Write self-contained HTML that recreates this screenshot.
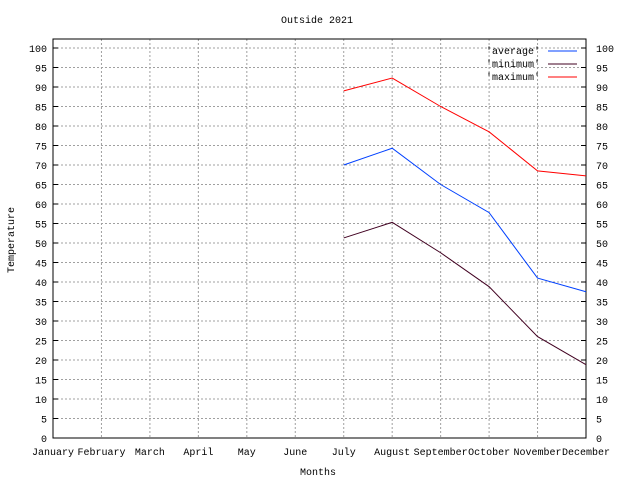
<!DOCTYPE html>
<html><head><meta charset="utf-8"><style>
body{margin:0;background:#fff;}
svg{display:block;font-family:"Liberation Mono",monospace;font-size:10px;}
</style></head><body>
<svg id="chart" width="640" height="480" xmlns="http://www.w3.org/2000/svg"></svg>
<script>
const months=["January","February","March","April","May","June","July","August","September","October","November","December"];
const yTicks=[0,5,10,15,20,25,30,35,40,45,50,55,60,65,70,75,80,85,90,95,100];
const avgIdx=[6,7,8,9,10,11];
const avgVals=[70,74.3,65,57.8,41,37.5];
const minVals=[51.3,55.3,47.5,38.8,26,18.8];
const maxVals=[89,92.3,85,78.5,68.5,67.2];

const L=53,R=586,T=39,B=438;
const X=i=>L+(R-L)*i/11;
const Y=v=>B-3.9*v;
const NS="http://www.w3.org/2000/svg";
const svg=document.getElementById('chart');
function mk(tag,attrs,parent){const e=document.createElementNS(NS,tag);for(const k in attrs)e.setAttribute(k,attrs[k]);(parent||svg).appendChild(e);return e;}

const grid=mk('g',{});


yTicks.forEach(v=>{
  if(v>0){const l=mk('line',{x1:L,x2:R,y1:Y(v),y2:Y(v),stroke:'#a0a0a0','stroke-dasharray':'2,2','stroke-width':1},grid);
  
  }
  const t1=mk('text',{x:L-6,y:Y(v)+4,'text-anchor':'end'});t1.textContent=v;
  
  
  const t2=mk('text',{x:R+10,y:Y(v)+4,'text-anchor':'start'});t2.textContent=v;
  
  
  mk('line',{x1:L,x2:L+5,y1:Y(v),y2:Y(v),stroke:'#000'});
  mk('line',{x1:R-5,x2:R,y1:Y(v),y2:Y(v),stroke:'#000'});
});
months.forEach((m,i)=>{
  if(i>0&&i<11){const l=mk('line',{x1:X(i),x2:X(i),y1:T,y2:B,stroke:'#a0a0a0','stroke-dasharray':'2,2'},grid);
  
  }
  const t=mk('text',{x:X(i),y:B+17,'text-anchor':'middle'});t.textContent=m;
  
  
});
const frame=mk('rect',{x:L,y:T,width:R-L,height:B-T,fill:'none',stroke:'#000','stroke-width':1});



const title=mk('text',{x:317,y:23,'text-anchor':'middle'});title.textContent='Outside 2021';


const xt=mk('text',{x:318,y:475,'text-anchor':'middle'});xt.textContent='Months';


const yt=mk('text',{x:14,y:240,'text-anchor':'middle',transform:'rotate(-90 14 240)'});yt.textContent='Temperature';



const series=[['average',avgVals,'#0040ff'],['minimum',minVals,'#400020'],['maximum',maxVals,'#ff0000']];
series.forEach((s,k)=>{
  const pts=s[1].map((v,j)=>X(avgIdx[j])+','+Y(v)).join(' ');
  const pl=mk('polyline',{points:pts,fill:'none',stroke:s[2],'stroke-width':1});
  
  
  const ly=51+k*13;
  const lt=mk('text',{x:540,y:ly+3,'text-anchor':'end'});lt.textContent="'"+s[0]+"'";
  
  
  const ll=mk('line',{x1:548,x2:577,y1:ly,y2:ly,stroke:s[2]});
  
  
});
</script>
</body></html>
